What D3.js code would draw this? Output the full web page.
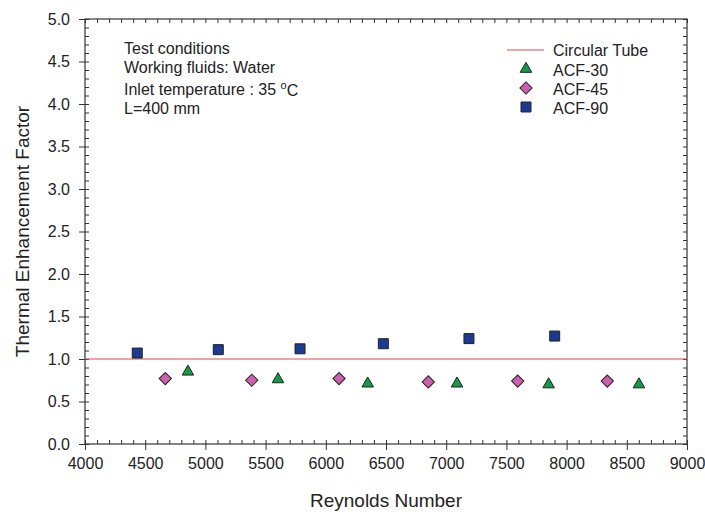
<!DOCTYPE html>
<html>
<head>
<meta charset="utf-8">
<script src="https://cdn.jsdelivr.net/npm/d3@7"></script>
<style>
  body { margin: 0; background: #fff; }
  svg { display: block; }
</style>
</head>
<body>
<script>
// datos
var seriesNames = ["ACF-30", "ACF-45", "ACF-90"];
var reynolds30 = [4855, 5603, 6348, 7090, 7851, 8601];
var tef30 = [0.85, 0.76, 0.71, 0.71, 0.70, 0.70];
var reynolds45 = [4667, 5385, 6110, 6851, 7594, 8338];
var tef45 = [0.77, 0.75, 0.77, 0.73, 0.74, 0.74];
var reynolds90 = [4434, 5107, 5786, 6478, 7189, 7901];
var tef90 = [1.07, 1.11, 1.12, 1.18, 1.24, 1.27];
var circularTube = 1.0;
var xTicks = d3.range(4000, 9001, 500);
var yTicks = d3.range(0, 5.01, 0.5);
var notes = ["Test conditions", "Working fluids: Water", "Inlet temperature : 35 ", "L=400 mm"];

var width = 705, height = 515;
var margin = {left: 85, right: 18, top: 19, bottom: 71};

var svg = d3.select("body").append("svg")
  .attr("width", width)
  .attr("height", height)
  .attr("font-family", "'Liberation Sans', Arial, sans-serif")
  .attr("fill", "#222");

var x = d3.scaleLinear().domain([4000, 9000]).range([margin.left, width - margin.right]);
var y = d3.scaleLinear().domain([0, 5]).range([height - margin.bottom, margin.top]);

var x0 = x.range()[0], x1 = x.range()[1];
var y0 = y.range()[0], y1 = y.range()[1];

//////// ejes ////////
var minorX = d3.range(4000, 9001, 100);
var minorY = d3.range(0, 51, 1).map(d => d / 10);

// abajo: mayores hacia fuera, menores hacia dentro
svg.append("g")
  .attr("transform", `translate(0,${y0})`)
  .call(d3.axisBottom(x).tickValues(minorX).tickSize(-4).tickFormat(""))
  .call(g => g.select(".domain").remove());
svg.append("g")
  .attr("transform", `translate(0,${y0})`)
  .call(d3.axisBottom(x).tickValues(xTicks).tickSize(6).tickPadding(8).tickFormat(d3.format("d")))
  .call(g => g.selectAll("text").attr("font-size", 16).attr("fill", "#222").attr("font-family", null))
  .call(g => g.select(".domain").remove());

// arriba
svg.append("g")
  .attr("transform", `translate(0,${y1})`)
  .call(d3.axisTop(x).tickValues(minorX).tickSize(-4).tickFormat(""))
  .call(g => g.select(".domain").remove());

// izquierda
svg.append("g")
  .attr("transform", `translate(${x0},0)`)
  .call(d3.axisLeft(y).tickValues(minorY).tickSize(-4).tickFormat(""))
  .call(g => g.select(".domain").remove());
svg.append("g")
  .attr("transform", `translate(${x0},0)`)
  .call(d3.axisLeft(y).tickValues(yTicks).tickSize(6).tickPadding(9).tickFormat(d3.format(".1f")))
  .call(g => g.selectAll("text").attr("font-size", 16).attr("fill", "#222").attr("font-family", null))
  .call(g => g.select(".domain").remove());

// derecha
svg.append("g")
  .attr("transform", `translate(${x1},0)`)
  .call(d3.axisRight(y).tickValues(minorY).tickSize(-4).tickFormat(""))
  .call(g => g.select(".domain").remove());

svg.selectAll(".tick line").attr("stroke", "#333");

// marco
svg.append("rect")
  .attr("x", x0).attr("y", y1)
  .attr("width", x1 - x0).attr("height", y0 - y1)
  .attr("fill", "none").attr("stroke", "#333").attr("stroke-width", 1.2);

// titulos
svg.append("text")
  .attr("x", (x0 + x1) / 2).attr("y", 507)
  .attr("text-anchor", "middle")
  .attr("font-size", 19)
  .text("Reynolds Number");

svg.append("text")
  .attr("transform", `translate(29,${(y0 + y1) / 2}) rotate(-90)`)
  .attr("text-anchor", "middle")
  .attr("font-size", 19)
  .text("Thermal Enhancement Factor");

//////// linea tubo circular ////////
svg.append("line")
  .attr("x1", x(4000)).attr("x2", x(9000))
  .attr("y1", y(circularTube)).attr("y2", y(circularTube))
  .attr("stroke", "#e0484c").attr("stroke-width", 1.2);

//////// marcadores ////////
var styles = [
  {fill: "#139a49", type: d3.symbolTriangle, size: 58, rot: 0},
  {fill: "#cf5fae", type: d3.symbolSquare, size: 75, rot: 45},
  {fill: "#1d3a93", type: d3.symbolSquare, size: 100, rot: 0}
];
var series = [
  {xs: reynolds30, ys: tef30},
  {xs: reynolds45, ys: tef45},
  {xs: reynolds90, ys: tef90}
];

series.forEach(function(s, k) {
  var st = styles[k];
  var pts = s.xs.map((v, i) => [v, s.ys[i]]);
  svg.append("g")
    .selectAll("path")
    .data(pts)
    .join("path")
      .attr("d", d3.symbol().type(st.type).size(st.size))
      .attr("transform", d => `translate(${x(d[0])},${y(d[1])}) rotate(${st.rot})`)
      .attr("fill", st.fill)
      .attr("stroke", "#222")
      .attr("stroke-width", 1);
});

//////// leyenda ////////
var legend = svg.append("g").attr("font-size", 16);
legend.append("line")
  .attr("x1", 507).attr("x2", 544).attr("y1", 50).attr("y2", 50)
  .attr("stroke", "#e0484c").attr("stroke-width", 1.2);
legend.append("text").attr("x", 553).attr("y", 50).attr("dy", "0.35em").text("Circular Tube");

var legY = [69, 88, 107];
seriesNames.forEach(function(name, k) {
  var st = styles[k];
  legend.append("path")
    .attr("d", d3.symbol().type(st.type).size(st.size))
    .attr("transform", `translate(526,${legY[k]}) rotate(${st.rot})`)
    .attr("fill", st.fill).attr("stroke", "#222").attr("stroke-width", 1);
  legend.append("text").attr("x", 553).attr("y", legY[k] + 1).attr("dy", "0.35em").text(name);
});

//////// notas ////////
var noteY = [48, 67, 89, 108];
var notesG = svg.append("g").attr("font-size", 16);
notes.forEach(function(t, i) {
  var tx = notesG.append("text").attr("x", 124).attr("y", noteY[i]).attr("dy", "0.35em").text(t);
  if (i === 2) {
    tx.append("tspan").attr("font-size", 11).attr("dy", "-0.55em").text("o");
    tx.append("tspan").attr("dy", "0.45em").text("C");
  }
});
</script>
</body>
</html>
